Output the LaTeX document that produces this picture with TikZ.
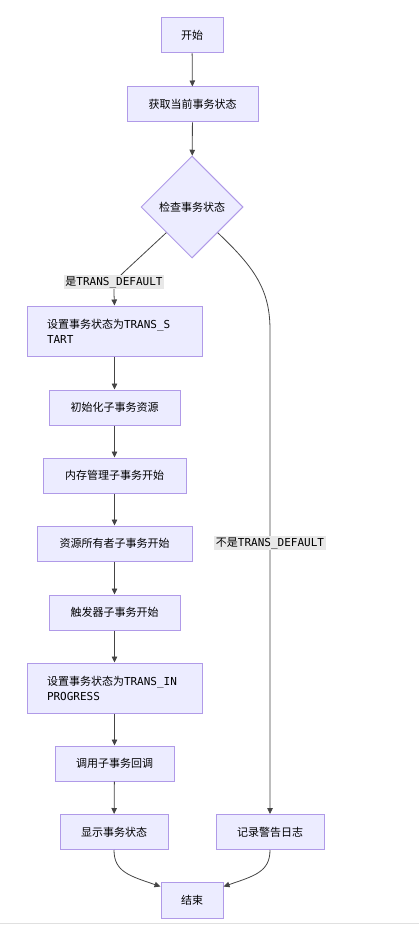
\documentclass[tikz,border=0pt]{standalone}
\usepackage{fontspec}
\setmainfont{Noto Sans CJK SC}
\setmonofont{DejaVu Sans Mono}
\usetikzlibrary{arrows.meta, positioning, shapes.geometric}
\definecolor{nodefill}{HTML}{ECECFF}
\definecolor{nodeborder}{HTML}{B09AE8}
\definecolor{edgegray}{HTML}{444444}
\definecolor{labelbg}{HTML}{E8E8E8}

\tikzset{
    procbox/.style={draw=nodeborder, fill=nodefill, line width=1pt, minimum height=35pt, inner sep=0pt, font=\fontsize{11}{15}\selectfont},
    widebox/.style={procbox, minimum width=175pt, minimum height=50pt, text width=135pt, inner xsep=20pt, align=left},
    decision/.style={diamond, draw=nodeborder, fill=nodefill, line width=1pt, minimum width=102pt, minimum height=102pt, inner sep=0pt, font=\fontsize{11}{15}\selectfont},
    flow/.style={draw=edgegray, line width=0.8pt, -{Triangle[length=6pt,width=5.5pt]}},
    edgelabel/.style={fill=labelbg, inner sep=1.5pt, font=\fontsize{11}{13}\selectfont}
}

\begin{document}
\begin{tikzpicture}[x=1pt, y=-1pt]
    \useasboundingbox (0,0) rectangle (419,925);

    % Main column
    \node[procbox, minimum width=62pt] (start) at (192,35.5) {开始};
    \node[procbox, minimum width=131pt] (getstate) at (192.5,104.5) {获取当前事务状态};
    \node[decision] (check) at (192,207) {检查事务状态};

    % Default branch
    \node[widebox] (setstart) at (114.5,331) {设置事务状态为\texttt{TRANS\_S}\\\texttt{TART}};
    \node[procbox, minimum width=131pt] (initres) at (114.5,407.5) {初始化子事务资源};
    \node[procbox, minimum width=143pt] (memstart) at (114.5,475.5) {内存管理子事务开始};
    \node[procbox, minimum width=155pt] (ownerstart) at (114.5,543.5) {资源所有者子事务开始};
    \node[procbox, minimum width=131pt] (trigstart) at (114.5,612.5) {触发器子事务开始};
    \node[widebox] (setprog) at (114.5,688) {设置事务状态为\texttt{TRANS\_IN}\\\texttt{PROGRESS}};
    \node[procbox, minimum width=119pt] (callback) at (114.5,763.5) {调用子事务回调};
    \node[procbox, minimum width=108pt] (showstate) at (114,832) {显示事务状态};

    % Other branch
    \node[procbox, minimum width=108pt] (logwarn) at (270,832) {记录警告日志};

    \node[procbox, minimum width=62pt, minimum height=36pt] (finish) at (192,900) {结束};

    % Connectors
    \draw[flow] (start) -- (getstate);
    \draw[flow] (getstate) -- (check);
    \draw[flow] (check.south west) -- (124,272) .. controls (114,282) .. (114,294) -- (setstart.north);
    \draw[flow] (check.south east) .. controls (255,268) and (270,290) .. (270,330) -- (logwarn.north);
    \draw[flow] (setstart) -- (initres);
    \draw[flow] (initres) -- (memstart);
    \draw[flow] (memstart) -- (ownerstart);
    \draw[flow] (ownerstart) -- (trigstart);
    \draw[flow] (trigstart) -- (setprog);
    \draw[flow] (setprog) -- (callback);
    \draw[flow] (callback) -- (showstate);
    \draw[flow] (showstate.south) .. controls (114,872) and (130,876) .. ([yshift=-5pt]finish.north west);
    \draw[flow] (logwarn.south) .. controls (270,872) and (254,876) .. ([yshift=-5pt]finish.north east);

    % Edge labels
    \node[edgelabel] (yeslbl) at (114,282) {是\texttt{TRANS\_DEFAULT}};
    \node[edgelabel] (nolbl) at (270,543) {不是\texttt{TRANS\_DEFAULT}};

    % Bottom rule
    \draw[black!12, line width=1.5pt] (0,923.5) -- (419,923.5);
\end{tikzpicture}
\end{document}
